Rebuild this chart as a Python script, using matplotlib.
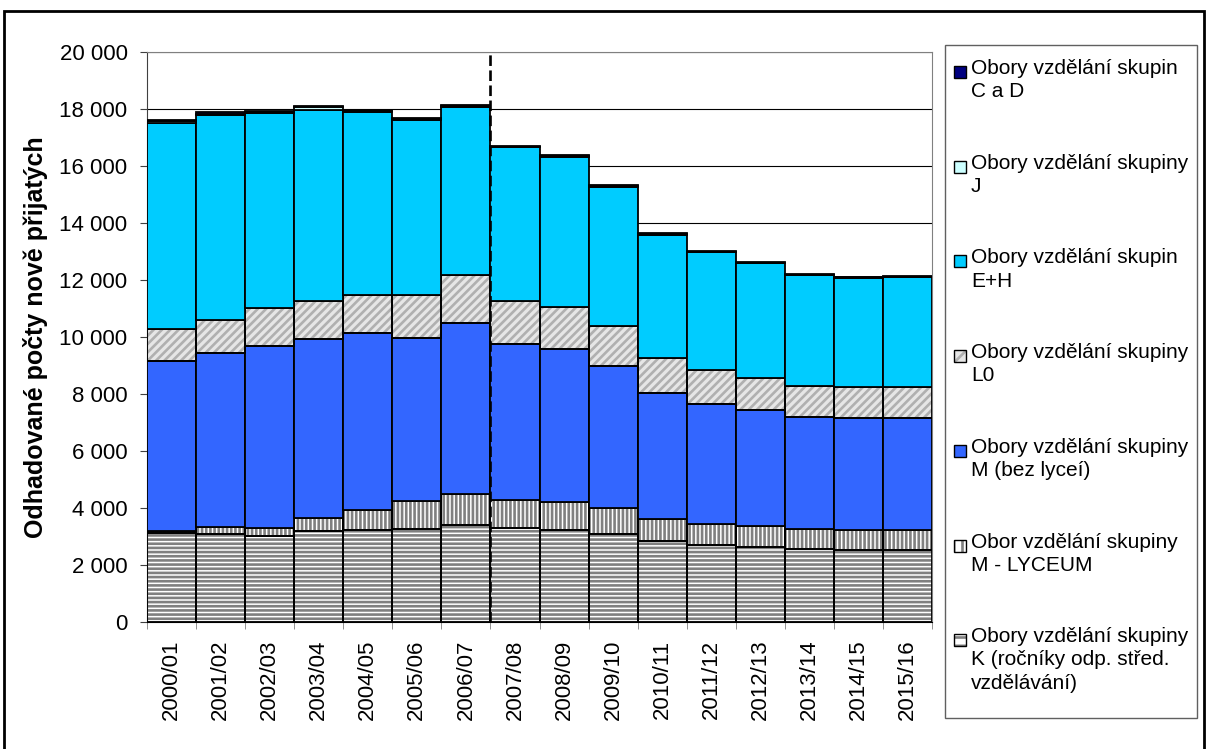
import numpy as np
import matplotlib
matplotlib.use("Agg")
import matplotlib.pyplot as plt
from matplotlib.patches import Rectangle

plt.rcParams['font.family'] = ['Liberation Sans', 'DejaVu Sans']
plt.rcParams['hatch.linewidth'] = 1.9

years = ["2000/01", "2001/02", "2002/03", "2003/04", "2004/05", "2005/06", "2006/07", "2007/08",
         "2008/09", "2009/10", "2010/11", "2011/12", "2012/13", "2013/14", "2014/15", "2015/16"]

k_stred = [3120, 3085, 2993, 3169, 3215, 3261, 3402, 3274, 3215, 3085, 2818, 2677, 2607, 2537, 2512, 2512]
m_lyceum = [70, 225, 281, 468, 714, 962, 1089, 984, 973, 914, 794, 760, 738, 713, 714, 714]
m_bez = [5975, 6124, 6395, 6279, 6219, 5738, 6008, 5482, 5376, 4978, 4417, 4216, 4076, 3936, 3924, 3924]
l0 = [1113, 1171, 1335, 1335, 1335, 1501, 1676, 1521, 1486, 1395, 1219, 1173, 1145, 1099, 1090, 1090]
e_h = [7249, 7181, 6852, 6711, 6430, 6159, 5914, 5401, 5282, 4906, 4343, 4147, 4020, 3880, 3841, 3853]
j_sk = [70, 60, 50, 110, 30, 20, 20, 10, 20, 10, 10, 10, 10, 10, 10, 10]
c_d = [40, 40, 40, 40, 40, 40, 40, 40, 40, 40, 40, 40, 40, 30, 30, 30]

labels = ["Obory vzdělání skupin\nC a D",
          "Obory vzdělání skupiny\nJ",
          "Obory vzdělání skupin\nE+H",
          "Obory vzdělání skupiny\nL0",
          "Obory vzdělání skupiny\nM (bez lyceí)",
          "Obor vzdělání skupiny\nM - LYCEUM",
          "Obory vzdělání skupiny\nK (ročníky odp. střed.\nvzdělávání)"]

# (values, face, hatch, hatch colour) bottom -> top
layers = [
    (k_stred, "white", "----", "#808080"),
    (m_lyceum, "white", "||||", "#808080"),
    (m_bez, "#3366FF", None, None),
    (l0, "#e6e6e6", "////", "#b0b0b0"),
    (e_h, "#00CCFF", None, None),
    (j_sk, "#CCFFFF", None, None),
    (c_d, "#000080", None, None),
]

W, H = 1209, 749
fig = plt.figure(figsize=(W / 100, H / 100), dpi=100)
ax = fig.add_axes([147 / W, 1 - 621.5 / H, (932 - 147) / W, (621.5 - 52.3) / H])

x = np.arange(len(years))
bottom = np.zeros(len(years))
for vals, face, hatch, hcol in layers:
    vals = np.array(vals, dtype=float)
    if hatch:
        ax.bar(x, vals, 1.0, bottom=bottom, color=face, hatch=hatch, edgecolor=hcol, linewidth=0, zorder=2)
        ax.bar(x, vals, 1.0, bottom=bottom, fill=False, edgecolor="black", linewidth=1.3, zorder=3)
    else:
        ax.bar(x, vals, 1.0, bottom=bottom, color=face, edgecolor="black", linewidth=1.3, zorder=3)
    bottom += vals

ax.axvline(6.5, color="black", linestyle=(0, (4, 1.7)), linewidth=1.9, zorder=5)

ax.set_xlim(-0.5, 15.5)
ax.set_ylim(0, 20000)
ax.set_yticks(np.arange(0, 20001, 2000))
ax.set_yticklabels([f"{v:,}".replace(",", " ") for v in range(0, 20001, 2000)])
ax.set_axisbelow(True)
ax.yaxis.grid(True, color="black", linewidth=0.8, zorder=0)
ax.set_xticks(x)
ax.set_xticklabels(years, rotation=90, va="top", ha="center")
ax.set_xticks(np.arange(-0.5, 16, 1), minor=True)
ax.tick_params(axis="x", which="major", length=0, pad=13, labelsize=16)
ax.tick_params(axis="x", which="minor", length=5, color="#808080", direction="out")
ax.tick_params(axis="y", length=5, pad=9, labelsize=16, color="#404040")
for s in ["top", "right"]:
    ax.spines[s].set_color("#808080")
ax.spines["left"].set_color("#404040")
ax.spines["bottom"].set_color("black")

ax.set_ylabel("Odhadované počty nově přijatých", fontsize=18, fontweight="bold", labelpad=8)

# legend drawn by hand so markers line up with the first text line
fig.patches.append(Rectangle((945 / W, 1 - 718 / H), (1197 - 945) / W, (718 - 45) / H,
                             transform=fig.transFigure, fill=False, edgecolor="#606060", linewidth=1.0))
legend_items = [(layers[6], labels[0]), (layers[5], labels[1]), (layers[4], labels[2]),
                (layers[3], labels[3]), (layers[2], labels[4]), (layers[1], labels[5]),
                (layers[0], labels[6])]
for i, ((vals, face, hatch, hcol), lab) in enumerate(legend_items):
    yc = 72 + i * 94.7
    rx, ry, rs = 954 / W, 1 - (yc + 6) / H, 12
    if hatch:
        fig.patches.append(Rectangle((rx, ry), rs / W, rs / H, transform=fig.transFigure,
                                     facecolor=face, hatch=hatch[:2], edgecolor=hcol, linewidth=0))
    else:
        fig.patches.append(Rectangle((rx, ry), rs / W, rs / H, transform=fig.transFigure,
                                     facecolor=face, linewidth=0))
    fig.patches.append(Rectangle((rx, ry), rs / W, rs / H, transform=fig.transFigure,
                                 fill=False, edgecolor="black", linewidth=1.0))
    fig.text(971 / W, 1 - (yc - 13) / H, lab, fontsize=15, va="top", ha="left", linespacing=1.28)

# outer frame
fig.patches.append(Rectangle((4 / W, -0.05), (1204 - 4) / W, 1.05 - 11 / H,
                             transform=fig.transFigure, fill=False, edgecolor="black", linewidth=2))

fig.savefig("out.png", dpi=100)
